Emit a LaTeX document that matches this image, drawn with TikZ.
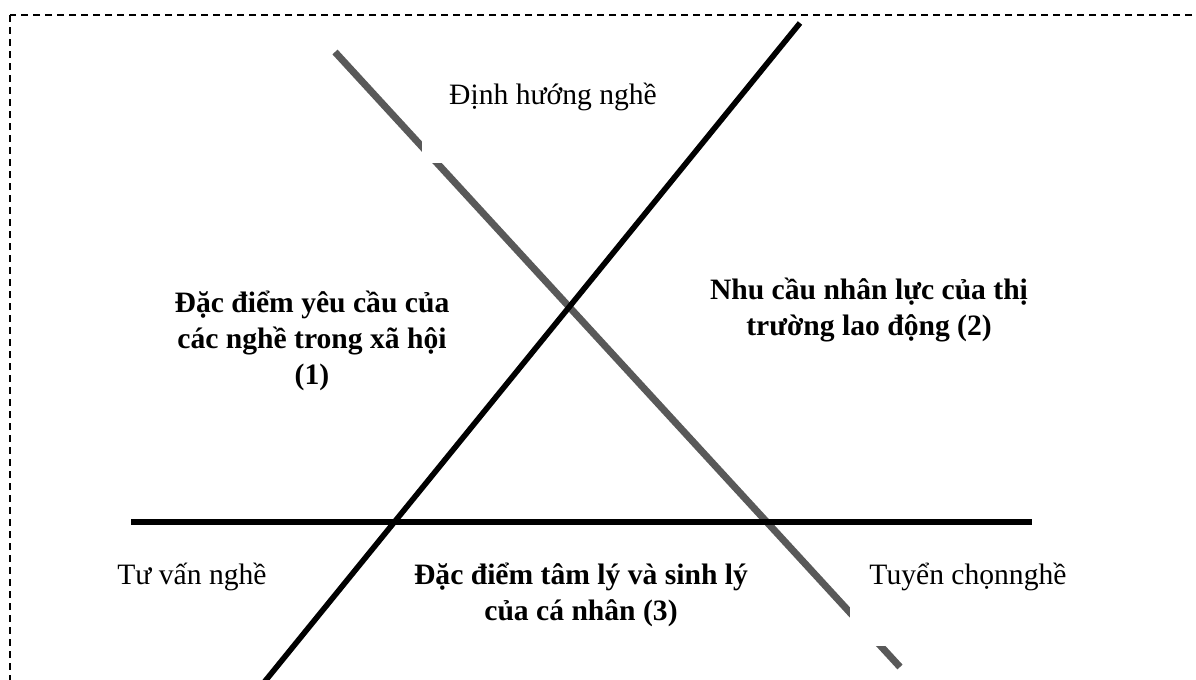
\documentclass[tikz,border=0pt]{standalone}
\usepackage{fontspec}
\setmainfont{Liberation Serif}
\definecolor{greyline}{RGB}{89,89,89}
\begin{document}
\begin{tikzpicture}[x=0.5pt,y=-0.5pt,
  lbl/.style={font=\fontsize{14.8}{18}\selectfont, align=center, inner sep=0pt},
  boldlbl/.style={font=\fontsize{14.8}{18}\selectfont\bfseries, align=center, inner sep=0pt},
  patch/.style={fill=white, draw=none, inner sep=0pt, anchor=north west},
  greybar/.style={line width=3.5pt, draw=greyline},
  blackbar/.style={line width=2.8pt, draw=black},
  frame/.style={line width=0.65pt, dash pattern=on 3.5pt off 2.5pt}]
\useasboundingbox (0,0) rectangle (1196,680);
\clip (0,0) rectangle (1196,680);
% dashed frame (continues beyond right and bottom edges)
\draw[frame] (10,15) rectangle (1260,760);
% end points
\coordinate (g1) at (335,52);
\coordinate (g2) at (900,667);
\coordinate (b1) at (800,23);
\coordinate (b2) at (240,712);
\coordinate (h1) at (131,522);
\coordinate (h2) at (1032,522);
% grey diagonal
\draw[greybar] (g1) -- (g2);
% white text-box patches that interrupt the grey line
\node[patch, minimum width=131pt, minimum height=66pt] (patchA) at (422,31) {};
\node[patch, minimum width=118pt, minimum height=58pt] (patchB) at (850,530) {};
% black lines
\draw[blackbar] (b1) -- (b2);
\draw[line width=3pt] (h1) -- (h2);
% labels
\node[lbl] (dinhhuong) at (553,97) {Định hướng nghề};
\node[lbl] (tuvan) at (192,577) {Tư vấn nghề};
\node[lbl] (tuyenchon) at (968,577) {Tuyển chọnnghề};
\node[boldlbl] (dacdiem1) at (312,341) {Đặc điểm yêu cầu của\\các nghề trong xã hội\\(1)};
\node[boldlbl] (nhucau2) at (869,310) {Nhu cầu nhân lực của thị\\trường lao động (2)};
\node[boldlbl] (tamly3) at (581,595) {Đặc điểm tâm lý và sinh lý\\của cá nhân (3)};
\end{tikzpicture}
\end{document}
